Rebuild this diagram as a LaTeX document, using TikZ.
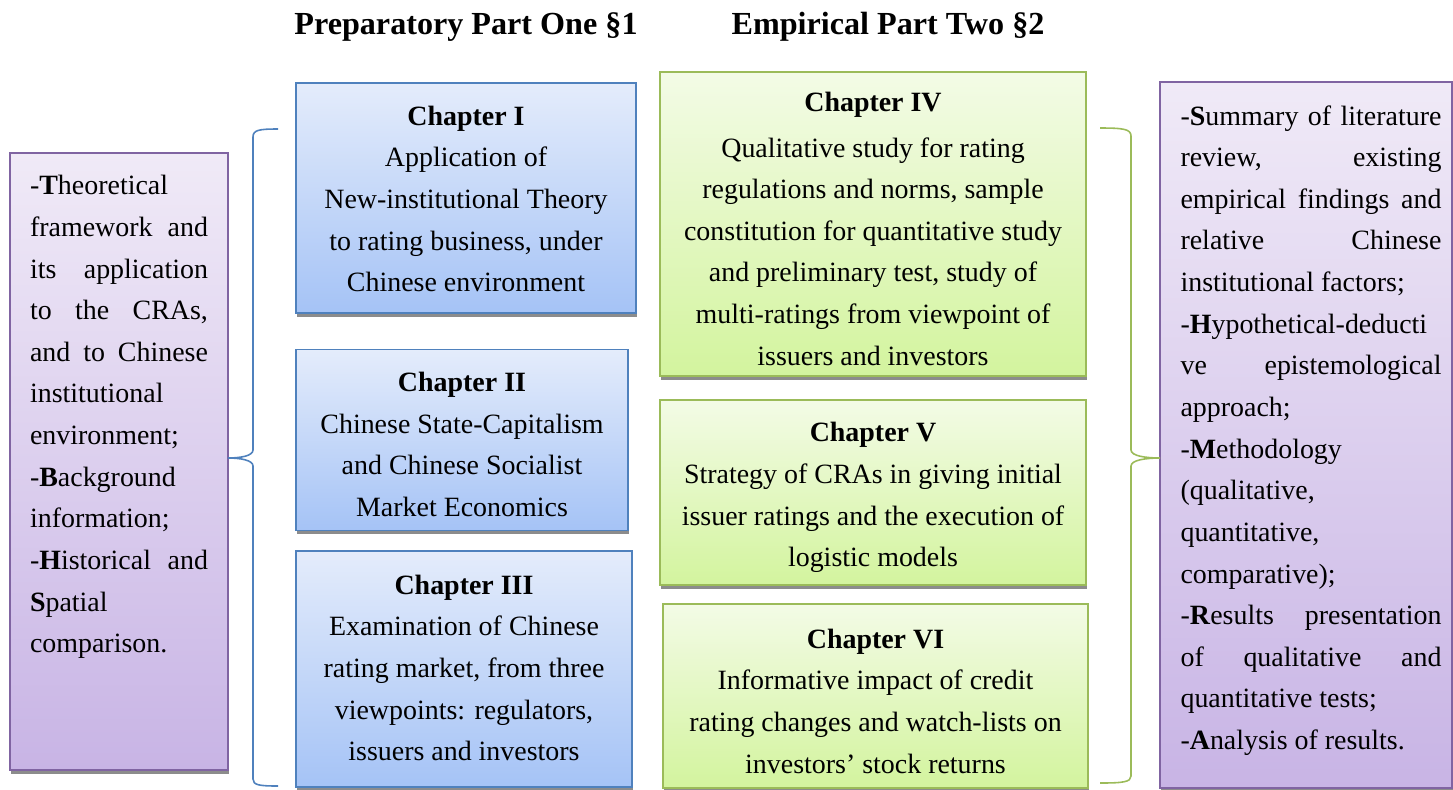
\documentclass[tikz,border=0pt]{standalone}
\usepackage{fontspec}
\setmainfont{Liberation Serif}
\usetikzlibrary{shadows}

\definecolor{chapblue}{HTML}{4F81BD}
\definecolor{chapgreen}{HTML}{9BBB59}
\definecolor{notepurple}{HTML}{8064A2}
\definecolor{bluetop}{HTML}{E4ECFB}
\definecolor{bluebottom}{HTML}{A5C3F6}
\definecolor{greentop}{HTML}{F3FBE6}
\definecolor{greenbottom}{HTML}{D3F49E}
\definecolor{purpletop}{HTML}{F0EAF7}
\definecolor{purplebottom}{HTML}{C8B4E5}

\setlength{\parindent}{0pt}
\hbadness=10000
\hyphenpenalty=10000

\begin{document}
\begin{tikzpicture}[x=0.02cm,y=-0.02cm]
	 \tikzstyle{box}=[rectangle,line width=1.1pt,inner sep=0pt,
	   drop shadow={shadow xshift=0.02cm,shadow yshift=-0.08cm,fill=black!45,opacity=1}]
	 \tikzstyle{part one box}=[box,draw=chapblue,top color=bluetop,bottom color=bluebottom]
	 \tikzstyle{part two box}=[box,draw=chapgreen,top color=greentop,bottom color=greenbottom]
	 \tikzstyle{note box}=[box,draw=notepurple,top color=purpletop,bottom color=purplebottom]
	 \tikzstyle{chap text}=[inner sep=0pt,align=center,font=\fontsize{15.9}{23.7}\selectfont]
	 \tikzstyle{note text}=[inner sep=0pt,anchor=north,align=justify,font=\fontsize{15.9}{23.7}\selectfont]
	 \tikzstyle{part title}=[inner sep=0pt,font=\fontsize{18.3}{22}\selectfont\bfseries]
	 \tikzstyle{blue brace}=[draw=chapblue,line width=0.9pt]
	 \tikzstyle{green brace}=[draw=chapgreen,line width=0.9pt]

	 \useasboundingbox (0,0) rectangle (1453,789);

	 \node[part title] (p1) at (466,27) {Preparatory Part One \S1};
	 \node[part title] (p2) at (888,27) {Empirical Part Two \S2};

	 \node[part one box,minimum width=6.8cm,minimum height=4.6cm] (ch1) at (466,198) {};
	 \node[part one box,minimum width=6.64cm,minimum height=3.62cm] (ch2) at (462,440) {};
	 \node[part one box,minimum width=6.72cm,minimum height=4.72cm] (ch3) at (464,669) {};
	 \node[part two box,minimum width=8.52cm,minimum height=6.08cm] (ch4) at (873,224) {};
	 \node[part two box,minimum width=8.52cm,minimum height=3.7cm] (ch5) at (873,492.5) {};
	 \node[part two box,minimum width=8.5cm,minimum height=3.68cm] (ch6) at (875.5,696) {};

	 \node[chap text] (ch1 text) at (466,199)
	   {\textbf{Chapter I}\\Application of\\New-institutional Theory\\to rating business, under\\Chinese environment};
	 \node[chap text] (ch2 text) at (462,444.5)
	   {\textbf{Chapter II}\\Chinese State-Capitalism\\and Chinese Socialist\\Market Economics};
	 \node[chap text] (ch3 text) at (464,668)
	   {\textbf{Chapter III}\\Examination of Chinese\\rating market, from three\\viewpoints: regulators,\\issuers and investors};
	 \node[chap text] (ch4 text) at (873,229)
	   {\textbf{Chapter IV}\\[2pt]Qualitative study for rating\\regulations and norms, sample\\constitution for quantitative study\\and preliminary test, study of\\multi-ratings from viewpoint of\\issuers and investors};
	 \node[chap text] (ch5 text) at (873,497.5)
	   {\textbf{Chapter V}\\Strategy of CRAs in giving initial\\issuer ratings and the execution of\\logistic models};
	 \node[chap text] (ch6 text) at (875.5,701)
	   {\textbf{Chapter VI}\\Informative impact of credit\\rating changes and watch-lists on\\investors’ stock returns};

	 \node[note box,minimum width=4.36cm,minimum height=12.34cm] (lbox) at (119,461.5) {};
	 \node[note box,minimum width=5.84cm,minimum height=14.12cm] (rbox) at (1306,435) {};

	 \node[note text,text width=3.56cm] (ltext) at (119,175)
	   {-\textbf{T}heoretical\linebreak
	    framework~and\linebreak
	    its~application\linebreak
	    to~the~CRAs,\linebreak
	    and~to~Chinese\linebreak
	    institutional\linebreak
	    environment;\par
	    -\textbf{B}ackground\linebreak
	    information;\par
	    -\textbf{H}istorical~and\linebreak
	    \textbf{S}patial\linebreak
	    comparison.};
	 \node[note text,text width=5.22cm] (rtext) at (1311,105)
	   {-\textbf{S}ummary~of~literature\linebreak
	    review,~existing\linebreak
	    empirical~findings~and\linebreak
	    relative~Chinese\linebreak
	    institutional~factors;\par
	    -\textbf{H}ypothetical-deducti\linebreak
	    ve~epistemological\linebreak
	    approach;\par
	    -\textbf{M}ethodology\linebreak
	    (qualitative,\linebreak
	    quantitative,\linebreak
	    comparative);\par
	    -\textbf{R}esults~presentation\linebreak
	    of~qualitative~and\linebreak
	    quantitative~tests;\par
	    -\textbf{A}nalysis~of~results.};

	 \draw[blue brace] (278,129) .. controls (259,129) and (253,130) .. (253,137) -- (253,450)
	   .. controls (253,456) and (240,458) .. (228,458) .. controls (240,458) and (253,460) .. (253,466)
	   -- (253,779) .. controls (253,785) and (259,786) .. (278,786);
	 \draw[green brace] (1100,128) .. controls (1123,128) and (1131,129) .. (1131,136) -- (1131,450)
	   .. controls (1131,456) and (1146,458) .. (1160,458) .. controls (1146,458) and (1131,460) .. (1131,466)
	   -- (1131,776) .. controls (1131,782) and (1123,783) .. (1100,783);
\end{tikzpicture}
\end{document}
